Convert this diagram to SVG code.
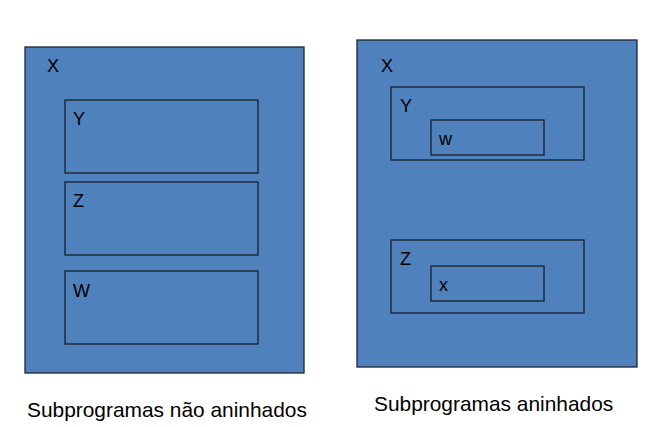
<svg xmlns="http://www.w3.org/2000/svg" width="655" height="427" viewBox="0 0 655 427">
<style>
.outer{fill:#4f81bd;stroke:#1c2633;stroke-width:1.3}
.inner{fill:none;stroke:#17202c;stroke-width:1.3}
.lbl{font-family:"Liberation Sans",Arial,sans-serif;font-size:18px;fill:#000}
.cap{font-family:"Liberation Sans",Arial,sans-serif;font-size:20.9px;fill:#000}
</style>
<rect width="655" height="427" fill="#fff"/>
<g id="left-X"><rect class="outer" x="25" y="47" width="279" height="326"/><text class="lbl" x="47" y="72">X</text></g>
<g id="left-Y"><rect class="inner" x="65" y="100" width="193" height="73"/><text class="lbl" x="73" y="125">Y</text></g>
<g id="left-Z"><rect class="inner" x="65" y="182" width="193" height="73"/><text class="lbl" x="73" y="207">Z</text></g>
<g id="left-W"><rect class="inner" x="65" y="271" width="193" height="73"/><text class="lbl" x="73" y="297">W</text></g>
<g id="right-X"><rect class="outer" x="357" y="40" width="280" height="327"/><text class="lbl" x="381" y="72">X</text></g>
<g id="right-Y"><rect class="inner" x="391" y="87" width="193" height="73"/><text class="lbl" x="400" y="112">Y</text></g>
<g id="right-w"><rect class="inner" x="431" y="120" width="113" height="35"/><text class="lbl" x="439" y="145">w</text></g>
<g id="right-Z"><rect class="inner" x="391" y="240" width="193" height="73"/><text class="lbl" x="400" y="265">Z</text></g>
<g id="right-x"><rect class="inner" x="431" y="266" width="113" height="35"/><text class="lbl" x="439" y="291">x</text></g>
<g id="connectors"/>
<text class="cap" x="27" y="417">Subprogramas não aninhados</text>
<text class="cap" x="374" y="411">Subprogramas aninhados</text>
</svg>
